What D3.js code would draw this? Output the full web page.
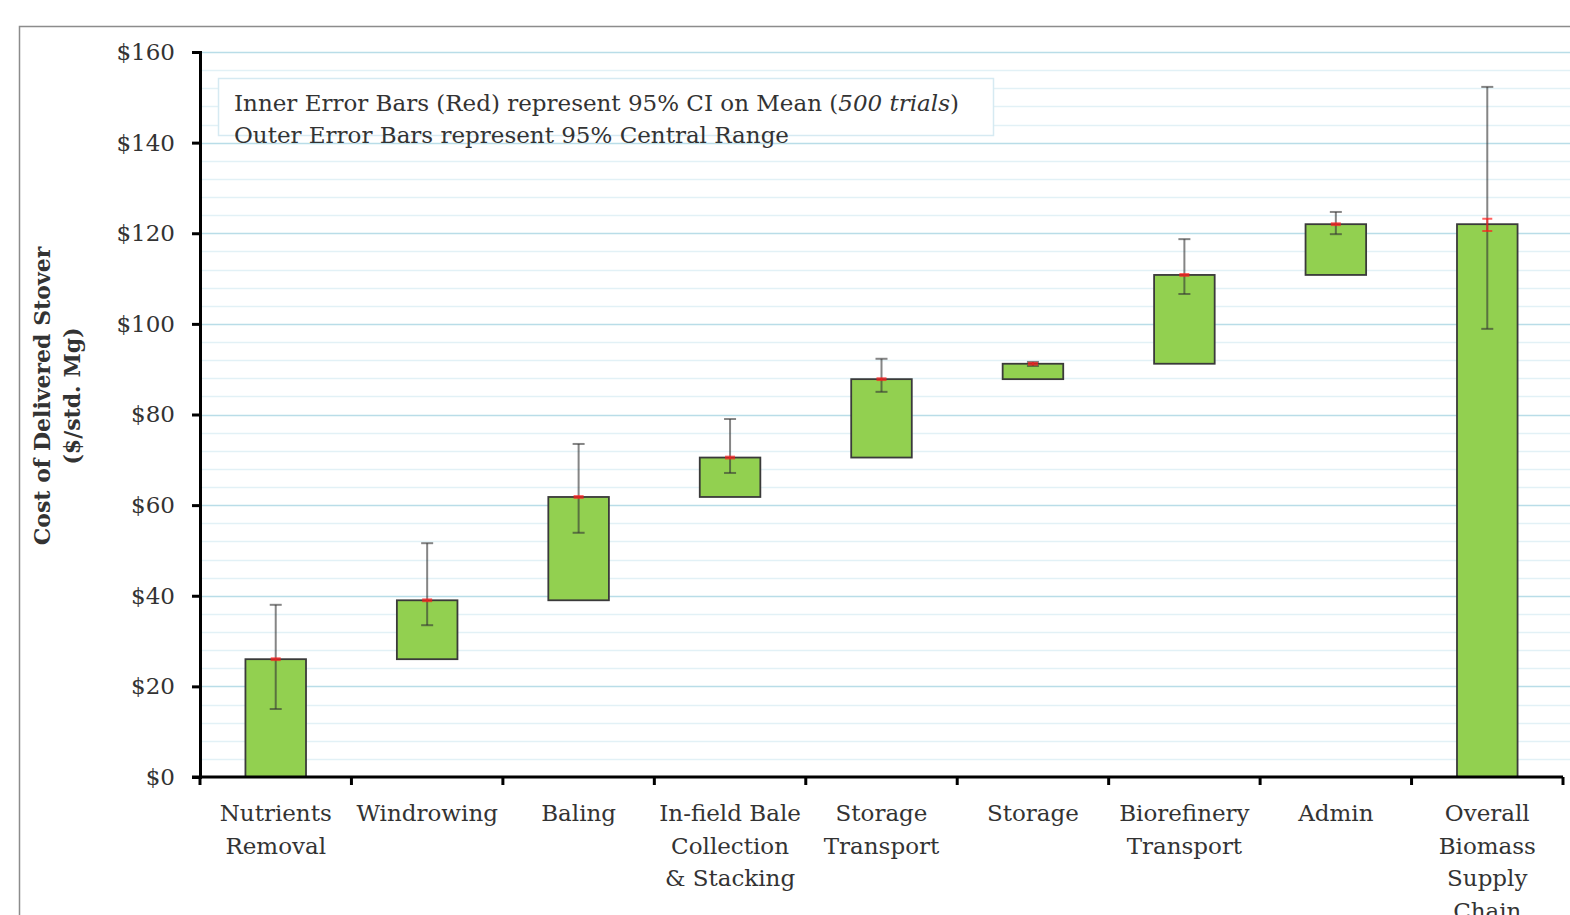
<!DOCTYPE html>
<html>
<head>
<meta charset="utf-8">
<script src="https://cdn.jsdelivr.net/npm/d3@7"></script>
<style>
  body { margin: 0; background: #fff; }
  svg { display: block; }
  text { font-family: "DejaVu Serif", serif; fill: #333; }
</style>
</head>
<body>
<div id="chart"></div>
<script>
// stage names (line breaks as \n)
const categories = [
    "Nutrients\nRemoval",
    "Windrowing",
    "Baling",
    "In-field Bale\nCollection\n& Stacking",
    "Storage\nTransport",
    "Storage",
    "Biorefinery\nTransport",
    "Admin",
    "Overall\nBiomass\nSupply\nChain"
];
// waterfall: bottom and top of each floating bar ($/std. Mg)
const barBase = [0, 26, 39, 61.8, 70.5, 87.8, 91.2, 110.8, 0];
const barTop  = [26, 39, 61.8, 70.5, 87.8, 91.2, 110.8, 122, 122];
// outer error bars: 95% central range
const outerLow  = [15, 33.5, 53.9, 67.1, 85, 90.7, 106.6, 119.8, 98.9];
const outerHigh = [38, 51.6, 73.5, 79, 92.3, 91.6, 118.7, 124.7, 152.3];
// inner (red) error bars: 95% CI on mean
const innerLow  = [25.8, 38.8, 61.6, 70.3, 87.6, 91.0, 110.6, 121.8, 120.5];
const innerHigh = [26.2, 39.2, 62.0, 70.7, 88.0, 91.4, 111.0, 122.2, 123.2];
const yTicks = [0, 20, 40, 60, 80, 100, 120, 140, 160];

const width = 1570, height = 915;
const plotLeft = 200, plotRight = 1563, plotTop = 52, plotBottom = 777;
const fontSize = "23px";

const svg = d3.select("#chart")
    .append("svg")
    .attr("width", width)
    .attr("height", height);

// outer frame
svg.append("path")
    .attr("d", `M19.5,${height} V26.5 H${width}`)
    .attr("fill", "none")
    .attr("stroke", "#8c8c8c")
    .attr("stroke-width", 1.5);

const x = d3.scaleBand()
    .domain(categories)
    .range([plotLeft, plotRight]);

const y = d3.scaleLinear()
    .domain([0, 160])
    .range([plotBottom, plotTop]);

// gridlines: minor every $4, major every $20
const grid = svg.append("g");
grid.selectAll("line.minor")
    .data(d3.range(4, 160, 4).filter(v => v % 20 !== 0))
    .enter().append("line")
    .attr("class", "minor")
    .attr("x1", plotLeft).attr("x2", width)
    .attr("y1", d => Math.round(y(d)) + 0.5)
    .attr("y2", d => Math.round(y(d)) + 0.5)
    .attr("stroke", "#e2f1f6")
    .attr("stroke-width", 1.5);
grid.selectAll("line.major")
    .data(yTicks.slice(1))
    .enter().append("line")
    .attr("class", "major")
    .attr("x1", plotLeft).attr("x2", width)
    .attr("y1", d => Math.round(y(d)) + 0.5)
    .attr("y2", d => Math.round(y(d)) + 0.5)
    .attr("stroke", "#b9dde8")
    .attr("stroke-width", 1.5);

// legend note
const note = svg.append("g");
note.append("rect")
    .attr("x", 218.5).attr("y", 78.5)
    .attr("width", 775).attr("height", 57)
    .attr("fill", "#fff")
    .attr("stroke", "#d6eaf2")
    .attr("stroke-width", 1.5);
const l1 = note.append("text")
    .attr("x", 234).attr("y", 111)
    .style("font-size", fontSize);
l1.append("tspan").text("Inner Error Bars (Red) represent 95% CI on Mean (");
l1.append("tspan").style("font-style", "italic").text("500 trials");
l1.append("tspan").text(")");
note.append("text")
    .attr("x", 234).attr("y", 143)
    .style("font-size", fontSize)
    .text("Outer Error Bars represent 95% Central Range");

// bars
const barW = x.bandwidth() * 0.4;
const cx = d => x(d) + x.bandwidth() / 2;

svg.append("g")
    .selectAll("rect")
    .data(categories)
    .enter().append("rect")
    .attr("x", d => cx(d) - barW / 2)
    .attr("y", (d, i) => y(barTop[i]))
    .attr("width", barW)
    .attr("height", (d, i) => y(barBase[i]) - y(barTop[i]))
    .attr("fill", "#92d050")
    .attr("stroke", "#3a3a3a")
    .attr("stroke-width", 1.8);

// outer error bars
const err = svg.append("g")
    .attr("stroke", "#333")
    .attr("stroke-opacity", 0.6)
    .attr("stroke-width", 2);
categories.forEach((c, i) => {
    const xc = cx(c);
    err.append("line")
        .attr("x1", xc).attr("x2", xc)
        .attr("y1", y(outerLow[i])).attr("y2", y(outerHigh[i]));
    [outerLow[i], outerHigh[i]].forEach(v => {
        err.append("line")
            .attr("x1", xc - 6).attr("x2", xc + 6)
            .attr("y1", y(v)).attr("y2", y(v));
    });
});

// inner (red) error bars
const inner = svg.append("g")
    .attr("stroke", "#ff2020")
    .attr("stroke-opacity", 0.7)
    .attr("stroke-width", 2);
categories.forEach((c, i) => {
    const xc = cx(c);
    inner.append("line")
        .attr("x1", xc).attr("x2", xc)
        .attr("y1", y(innerLow[i])).attr("y2", y(innerHigh[i]));
    [innerLow[i], innerHigh[i]].forEach(v => {
        inner.append("line")
            .attr("x1", xc - 5).attr("x2", xc + 5)
            .attr("y1", y(v)).attr("y2", y(v));
    });
});

// y axis
const yAxis = svg.append("g")
    .attr("transform", `translate(${plotLeft},0)`)
    .call(d3.axisLeft(y).tickValues(yTicks).tickSize(8).tickPadding(17)
        .tickFormat(d => "$" + d));
yAxis.select(".domain").attr("stroke", "#000").attr("stroke-width", 3);
yAxis.selectAll(".tick line").attr("stroke", "#000").attr("stroke-width", 3);
yAxis.selectAll(".tick text")
    .style("font-size", fontSize)
    .attr("fill", "#333");

// x axis
const xAxis = svg.append("g")
    .attr("transform", `translate(0,${plotBottom})`);
xAxis.append("line")
    .attr("x1", plotLeft - 8).attr("x2", plotRight)
    .attr("stroke", "#000").attr("stroke-width", 3);
xAxis.selectAll("line.tick")
    .data(categories.concat([null]))
    .enter().append("line")
    .attr("class", "tick")
    .attr("x1", d => d === null ? plotRight : x(d))
    .attr("x2", d => d === null ? plotRight : x(d))
    .attr("y1", 0).attr("y2", 8)
    .attr("stroke", "#000").attr("stroke-width", 3);
xAxis.selectAll("text")
    .data(categories)
    .enter().append("text")
    .attr("text-anchor", "middle")
    .style("font-size", fontSize)
    .each(function(d) {
        d3.select(this).selectAll("tspan")
            .data(d.split("\n"))
            .enter().append("tspan")
            .attr("x", cx(d))
            .attr("y", (t, k) => 44 + k * 32.5)
            .text(t => t);
    });

// y axis title
const yTitle = svg.append("text")
    .attr("transform", "translate(50,396) rotate(-90)")
    .attr("text-anchor", "middle")
    .style("font-size", "22px")
    .style("font-weight", "bold")
    .attr("fill", "#222");
yTitle.append("tspan").attr("x", 0).attr("dy", 0).text("Cost of Delivered Stover");
yTitle.append("tspan").attr("x", 0).attr("dy", 30).text("($/std. Mg)");
</script>
</body>
</html>
